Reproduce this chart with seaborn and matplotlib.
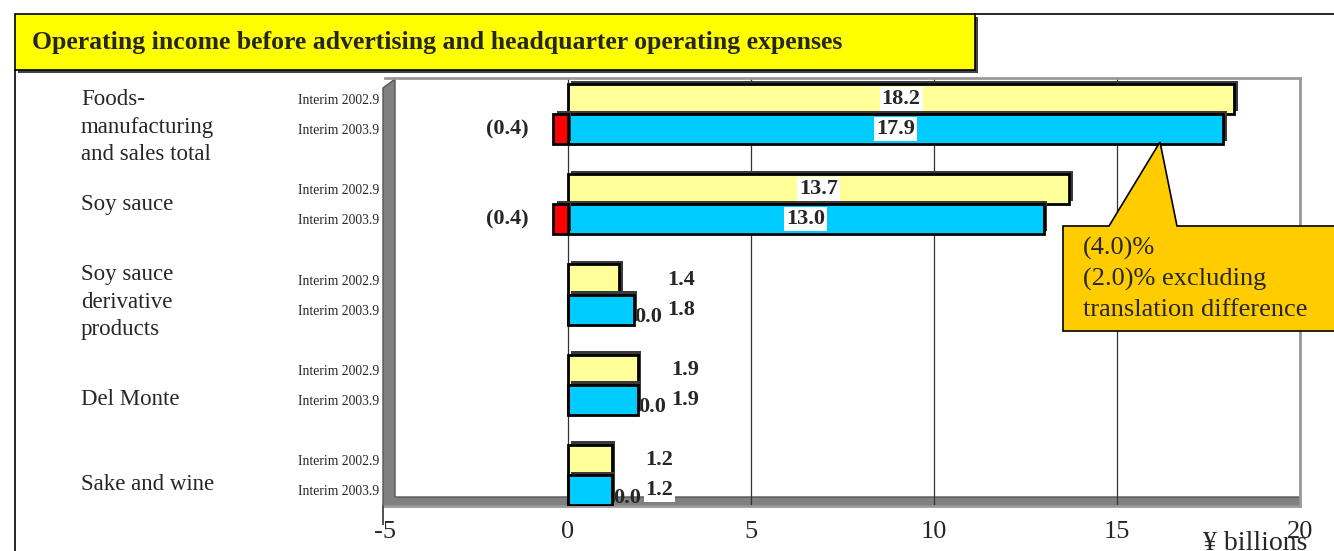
import matplotlib
matplotlib.use("Agg")
import matplotlib.pyplot as plt
import matplotlib.patheffects as pe
from matplotlib.patches import Rectangle, Polygon
from matplotlib.transforms import blended_transform_factory
import seaborn as sns
import pandas as pd

# data
categories = ["Foods-\nmanufacturing\nand sales total", "Soy sauce",
              "Soy sauce\nderivative\nproducts", "Del Monte", "Sake and wine"]
periods = ["Interim 2002.9", "Interim 2003.9"]
income_2002 = [18.2, 13.7, 1.4, 1.9, 1.2]
income_2003 = [17.9, 13.0, 1.8, 1.9, 1.2]
translation_diff = [-0.4, -0.4, 0.0, 0.0, 0.0]
x_ticks = [-5, 0, 5, 10, 15, 20]
callout_lines = ["(4.0)%", "(2.0)% excluding", "translation difference"]

W, H = 1334, 551
def fx(px):
    return px / W
def fy(py):
    return 1 - py / H

# one slot per bar, plus an empty slot between groups
order = []
rows = []
for i, cat in enumerate(categories):
    order += [f"{i}a", f"{i}b"]
    if i < len(categories) - 1:
        order.append(f"gap{i}")
    rows.append({"slot": f"{i}a", "value": income_2002[i], "series": periods[0]})
    rows.append({"slot": f"{i}b", "value": income_2003[i], "series": periods[1]})
df = pd.DataFrame(rows)
df_diff = pd.DataFrame({"slot": [f"{i}b" for i in range(len(categories))],
                        "value": translation_diff})

sns.set_style("white")
plt.rcParams["font.family"] = ["Liberation Serif", "DejaVu Serif"]

fig = plt.figure(figsize=(W / 100, H / 100), dpi=100)
ax = fig.add_axes([fx(385), fy(506), fx(1300) - fx(385), fy(78) - fy(506)])

shadow = [pe.withSimplePatchShadow(offset=(2.5, 2.5), shadow_rgbFace="#3a3a3a", alpha=1.0)]
sns.barplot(data=df, x="value", y="slot", hue="series", order=order,
            palette={periods[0]: "#FFFF99", periods[1]: "#00CCFF"}, saturation=1,
            dodge=False, width=1.0, edgecolor="black", linewidth=2,
            legend=False, ax=ax, zorder=3)
sns.barplot(data=df_diff, x="value", y="slot", order=order, color="#FF0000", saturation=1,
            width=1.0, edgecolor="black", linewidth=2, ax=ax, zorder=3)
for p in ax.patches:
    p.set_path_effects(shadow)

ax.set_xlim(-5, 20)
ax.set_ylim(len(order) - 1 + 0.53, -0.7)
ax.set_xticks(x_ticks)
ax.set_xticklabels([str(t) for t in x_ticks], fontsize=19)
ax.tick_params(axis="x", length=0, pad=11)
ax.set_xlabel("")
ax.set_ylabel("")
ax.set_yticks(range(len(order)))
ax.set_yticklabels([periods[0] if s.endswith("a") else periods[1] if s.endswith("b") else ""
                    for s in order], fontsize=9.8)
ax.tick_params(axis="y", which="major", length=0, pad=4)
ax.set_yticks([k + 0.5 for k in range(-1, len(order))], minor=True)
ax.tick_params(axis="y", which="minor", length=6, width=1, color="black", direction="in")
for t in x_ticks[1:]:
    ax.axvline(t, color="#333333", lw=0.9, zorder=1)
for side in ["top", "right", "bottom"]:
    ax.spines[side].set_color("#999999")
    ax.spines[side].set_linewidth(2)
ax.spines["left"].set_visible(False)

# 3D-ish side wall and floor
ax.add_patch(Polygon([(fx(383), fy(525)), (fx(383), fy(88)), (fx(395), fy(79)),
                      (fx(395), fy(497)), (fx(1300), fy(497)), (fx(1300), fy(506)),
                      (fx(383), fy(506))],
                     closed=True, transform=fig.transFigure, facecolor="#808080",
                     edgecolor="#555555", lw=1, zorder=0.5, clip_on=False))

# value labels
for i in range(len(categories)):
    ya, yb = 3 * i, 3 * i + 1
    for y, v in [(ya, income_2002[i]), (yb, income_2003[i])]:
        x = v / 2 if v > 5 else max(income_2002[i], income_2003[i]) + 1.3
        ax.text(x, y, f"{v:.1f}", ha="center", va="center", fontsize=16, fontweight="bold",
                zorder=5, bbox=dict(facecolor="white", edgecolor="none", pad=1.5))
    d = translation_diff[i]
    if d < 0:
        ax.text(-1.65, yb, f"({abs(d):.1f})", ha="center", va="center", fontsize=16,
                fontweight="bold", zorder=5)
    else:
        ax.text(income_2003[i] + 0.02, yb + 0.25, f"{d:.1f}", ha="left", va="center",
                fontsize=16, fontweight="bold", zorder=2)

# category names
label_pos = [0.93, 3.49, 6.75, 10.0, 12.8]
cat_tf = blended_transform_factory(fig.transFigure, ax.transData)
for cat, y in zip(categories, label_pos):
    ax.text(fx(81), y, cat, transform=cat_tf, ha="left", va="center",
            fontsize=16.5, linespacing=1.38)

# callout
fig.patches.append(Polygon([(fx(1063), fy(226)), (fx(1109), fy(226)), (fx(1160), fy(142)),
                            (fx(1177), fy(226)), (fx(1340), fy(226)), (fx(1340), fy(331)),
                            (fx(1063), fy(331))],
                           closed=True, transform=fig.transFigure, facecolor="#FFCC00",
                           edgecolor="black", lw=1.2, zorder=6))
fig.text(fx(1083), fy(279), "\n".join(callout_lines), ha="left", va="center",
         fontsize=19, linespacing=1.45, zorder=7)

# title box
fig.patches.append(Rectangle((fx(18), fy(73)), fx(975) - fx(15), fy(14) - fy(70),
                             transform=fig.transFigure, facecolor="#444444", edgecolor="none", zorder=1))
fig.patches.append(Rectangle((fx(15), fy(70)), fx(975) - fx(15), fy(14) - fy(70),
                             transform=fig.transFigure, facecolor="#FFFF00", edgecolor="black",
                             lw=1.2, zorder=2))
fig.add_artist(plt.Line2D([fx(975), fx(1334)], [fy(14), fy(14)], transform=fig.transFigure,
                          color="black", lw=1.2))
fig.add_artist(plt.Line2D([fx(15), fx(15)], [fy(70), fy(551)], transform=fig.transFigure,
                          color="black", lw=1.2))
fig.text(fx(32), fy(43), "Operating income before advertising and headquarter operating expenses",
         ha="left", va="center", fontsize=18.5, fontweight="bold", zorder=3)

fig.text(fx(1255), fy(543), "\u00a5 billions", ha="center", va="center", fontsize=20)

fig.savefig("out.png", dpi=100)
